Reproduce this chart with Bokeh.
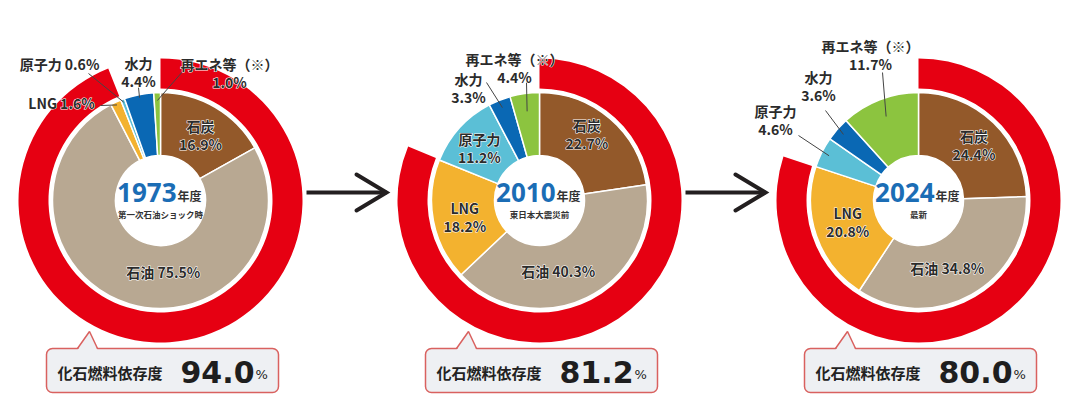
import math
from bokeh.plotting import figure
from bokeh.models import Range1d, BoxAnnotation
from bokeh.core.properties import value
from bokeh.embed import file_html
from bokeh.resources import INLINE

# ---------------- data ----------------
categories = ["石炭", "石油", "LNG", "原子力", "水力", "再エネ等（※）"]
years = ["1973", "2010", "2024"]
subtitles = ["第一次石油ショック時", "東日本大震災前", "最新"]
share_1973 = [16.9, 75.5, 1.6, 0.6, 4.4, 1.0]
share_2010 = [22.7, 40.3, 18.2, 11.2, 3.3, 4.4]
share_2024 = [24.4, 34.8, 20.8, 4.6, 3.6, 11.7]
fossil_share = [94.0, 81.2, 80.0]
callout_label = "化石燃料依存度"

# ---------------- style / layout ----------------
colors = ["#93592A", "#B8A892", "#F3B22F", "#5BBFD6", "#0A68B4", "#8CC43F"]
RING = "#E60012"
TXT = "#2B2B2B"
JP = value("Noto Sans CJK JP")
W, H = 1080, 408
centers_x = [160, 539, 918]
CY = 200
R_HOLE, R_PIE, R_RING_IN, R_RING_OUT = 45, 108, 112, 142
R_LABEL = 77

# per-chart label layout: ("in", lines, nudge) or ("out", lines, label_pos, leader_start, leader_r)
layouts = [
    [("in", 2, (1, 1)), ("in", 1, (25, -2)),
     ("out", 1, (-99, -98), (-60, -95), 105), ("out", 1, (-101, -137), (-72, -127), 105),
     ("out", 2, (-22, -129), (-22, -113), 105), ("out", 2, (69, -128), (23, -130), 100)],
    [("in", 2, (-3, -8)), ("in", 1, (-15, 1)), ("in", 2, (1, 2)), ("in", 2, (-3, -1)),
     ("out", 2, (-71, -113), (-53, -118), 100), ("out", 2, (-25, -133), (-13, -118), 90)],
    [("in", 2, (2, 0)), ("in", 1, (-9, 0)), ("in", 2, (2, -4)),
     ("out", 2, (-143, -81), (-120, -65), 100), ("out", 2, (-100, -115), (-93, -90), 100),
     ("out", 2, (-48, -146), (-36, -128), 90)],
]

p = figure(width=W, height=H, x_range=Range1d(0, W), y_range=Range1d(-H, 0),
           output_backend="svg", toolbar_location=None, min_border=0,
           x_axis_location=None, y_axis_location=None)
p.grid.visible = False
p.outline_line_color = None
p.background_fill_color = "white"


def Y(y):
    return -y


def halo_text(xs, ys, texts, **kw):
    # white halo underneath, then the plain text on top
    p.text(x=xs, y=ys, text=texts, text_color="white", text_outline_color="white", **kw)
    p.text(x=xs, y=ys, text=texts, text_color=TXT, **kw)


all_shares = [share_1973, share_2010, share_2024]

for k, shares in enumerate(all_shares):
    cx = centers_x[k]
    tot = sum(shares)
    cum = 0.0
    starts, ends, mids = [], [], []
    for v in shares:
        a0 = math.pi / 2 - 2 * math.pi * cum / tot
        cum += v
        a1 = math.pi / 2 - 2 * math.pi * cum / tot
        starts.append(a0)
        ends.append(a1)
        mids.append((a0 + a1) / 2)

    # outer fossil ring
    p.annular_wedge(x=cx, y=Y(CY), inner_radius=R_RING_IN, outer_radius=R_RING_OUT,
                    start_angle=math.pi / 2,
                    end_angle=math.pi / 2 - 2 * math.pi * fossil_share[k] / 100,
                    direction="clock", fill_color=RING, line_color=None)
    # inner donut
    n = len(shares)
    p.annular_wedge(x=[cx] * n, y=[Y(CY)] * n, inner_radius=R_HOLE, outer_radius=R_PIE,
                    start_angle=starts, end_angle=ends, direction="clock",
                    fill_color=colors, line_color="white", line_width=1.5)

    # labels
    for i, (cat, v) in enumerate(zip(categories, shares)):
        lay = layouts[k][i]
        if lay[0] == "in":
            _, nl, (ndx, ndy) = lay
            lx = cx + R_LABEL * math.cos(mids[i]) + ndx
            ly = CY - R_LABEL * math.sin(mids[i]) + ndy
        else:
            _, nl, (px_, py_), (sx, sy), lr = lay
            lx, ly = cx + px_, CY + py_
            ex = cx + lr * math.cos(mids[i])
            ey = CY - lr * math.sin(mids[i])
            p.line([cx + sx, ex], [Y(CY + sy), Y(ey)], line_color="#444444", line_width=1)
        if nl == 2:
            lines = [cat, f"{v:.1f}%"]
            ys = [ly - 9, ly + 9]
        else:
            lines = [f"{cat} {v:.1f}%"]
            ys = [ly]
        halo_text([lx] * len(lines), [Y(t) for t in ys], lines, text_font=JP,
                  text_font_size="14px", text_font_style="bold",
                  text_align="center", text_baseline="middle")

    # center text
    p.text(x=[cx + 16], y=[Y(192)], text=[years[k]], text_font=value("Noto Sans"),
           text_font_size="26px", text_font_style="bold", text_color="#1B6DB5",
           text_align="right", text_baseline="middle")
    p.text(x=[cx + 17], y=[Y(195)], text=["年度"], text_font=JP,
           text_font_size="12px", text_font_style="bold", text_color="#333333",
           text_align="left", text_baseline="middle")
    p.text(x=[cx], y=[Y(213)], text=[subtitles[k]], text_font=JP,
           text_font_size="8.5px", text_font_style="bold", text_color="#333333",
           text_align="center", text_baseline="middle")

    # callout box
    bl = cx - 114
    box = BoxAnnotation(left=bl, right=bl + 232, top=Y(348), bottom=Y(392),
                        fill_color="#EEF0F3", fill_alpha=1.0, line_color="#D9615F",
                        line_alpha=1.0, line_width=1.5, border_radius=6, level="underlay")
    p.add_layout(box)
    tx = [cx - 83, cx - 71, cx - 63]
    p.patch(x=tx, y=[Y(349.5), Y(331), Y(349.5)], fill_color="#EEF0F3", line_color=None)
    p.line(x=tx, y=[Y(348), Y(331), Y(348)], line_color="#D9615F", line_width=1.5)
    p.text(x=[bl + 11], y=[Y(372)], text=[callout_label], text_font=JP,
           text_font_size="15px", text_font_style="bold", text_color="#222222",
           text_align="left", text_baseline="middle")
    p.text(x=[bl + 208], y=[Y(371)], text=[f"{fossil_share[k]:.1f}"],
           text_font=value("DejaVu Sans"), text_font_size="30px", text_font_style="bold",
           text_color="#1E1E1E", text_align="right", text_baseline="middle")
    p.text(x=[bl + 209], y=[Y(374)], text=["%"], text_font=value("DejaVu Sans"),
           text_font_size="13px", text_color="#1E1E1E",
           text_align="left", text_baseline="middle")

# arrows between charts
for k in range(2):
    x0 = centers_x[k] + 146
    tip = centers_x[k + 1] - 153
    p.line([x0, tip], [Y(192), Y(192)], line_color="#231F20", line_width=4)
    p.line([tip - 30, tip, tip - 30], [Y(174), Y(192), Y(210)], line_color="#231F20",
           line_width=4, line_cap="round", line_join="miter")

open("out.html", "w").write(file_html(p, INLINE))
